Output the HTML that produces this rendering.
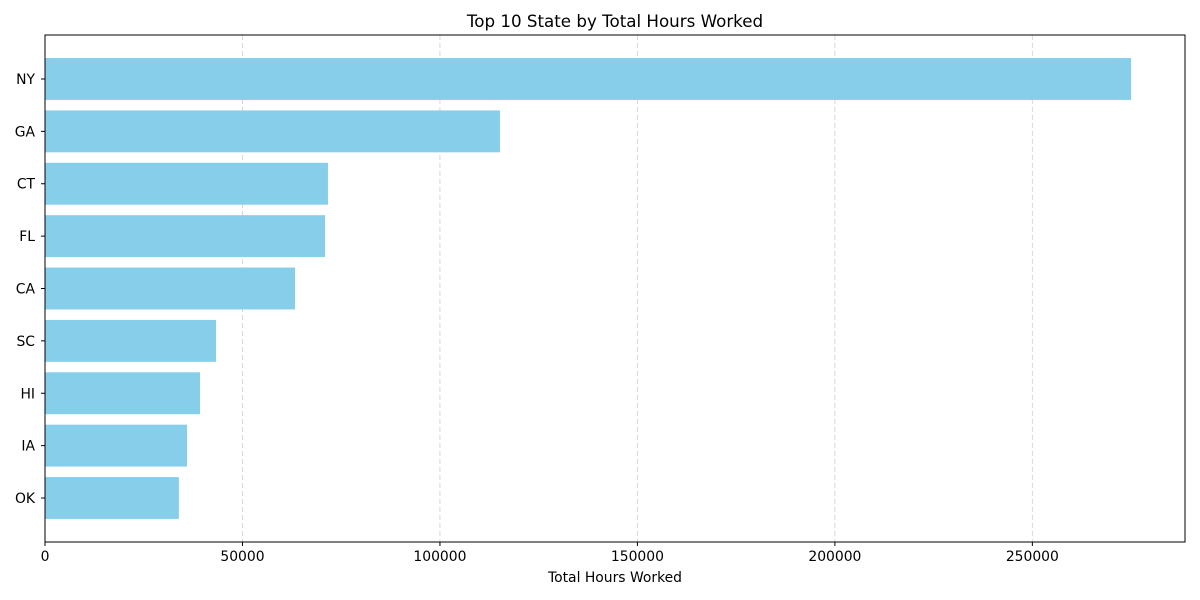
<!DOCTYPE html>
<html><head><meta charset="utf-8"><style>
html,body{margin:0;padding:0;background:#fff;}
svg{display:block;font-family:"DejaVu Sans","Liberation Sans",sans-serif;}
</style></head><body>
<svg id="chart" width="1200" height="600" viewBox="0 0 1200 600">
<text x="615" y="27" font-size="16.7" text-anchor="middle">Top 10 State by Total Hours Worked</text>
<g id="grid"></g><g id="bars"></g><g id="axes"></g>
<text x="615" y="582" font-size="13.9" text-anchor="middle">Total Hours Worked</text>
</svg>
<script>
const categories = ["NY","GA","CT","FL","CA","SC","HI","IA","OK"];
const values = [275000,115200,71650,70900,63300,43300,39250,35950,33900];
const xTicks = [0,50000,100000,150000,200000,250000];
const xTickLabels = ["0","50000","100000","150000","200000","250000"];

const L=45,R=1185,T=35,B=542,XMAX=288650;
const ns="http://www.w3.org/2000/svg";
const x=v=>L+v/XMAX*(R-L);
const n=categories.length;
const span=(n-1+0.8)*1.1;
const y=i=>T+(i-(-0.4-(n-1+0.8)*0.05))/span*(B-T);
function mk(tag,attrs,parent){const e=document.createElementNS(ns,tag);for(const k in attrs)e.setAttribute(k,attrs[k]);parent.appendChild(e);return e;}
const grid=document.getElementById('grid'),bars=document.getElementById('bars'),axes=document.getElementById('axes');
xTicks.forEach((t,i)=>{
  if(t>0){const g=mk('line',{x1:x(t),x2:x(t),y1:T,y2:B,stroke:'#d3d3d3','stroke-dasharray':'5,3','stroke-width':0.9},grid);
  
  }
  const tk=mk('line',{x1:x(t),x2:x(t),y1:B,y2:B+4,stroke:'#000'},axes);
  
  
  const tl=mk('text',{x:x(t),y:B+19,'font-size':13.9,'text-anchor':'middle'},axes);tl.textContent=xTickLabels[i];
  
  
});
const bh=0.8/span*(B-T);
categories.forEach((c,i)=>{
  const cy=y(i);
  const r=mk('rect',{x:L,y:cy-bh/2,width:x(values[i])-L,height:bh,fill:'#87ceeb'},bars);
  
  
  const tk=mk('line',{x1:L-4,x2:L,y1:cy,y2:cy,stroke:'#000'},axes);
  
  
  const tl=mk('text',{x:L-10,y:cy+5,'font-size':13.9,'text-anchor':'end'},axes);tl.textContent=c;
  
  
});
const fr=mk('rect',{x:L,y:T,width:R-L,height:B-T,fill:'none',stroke:'#000','stroke-width':1},axes);


</script>
</body></html>
